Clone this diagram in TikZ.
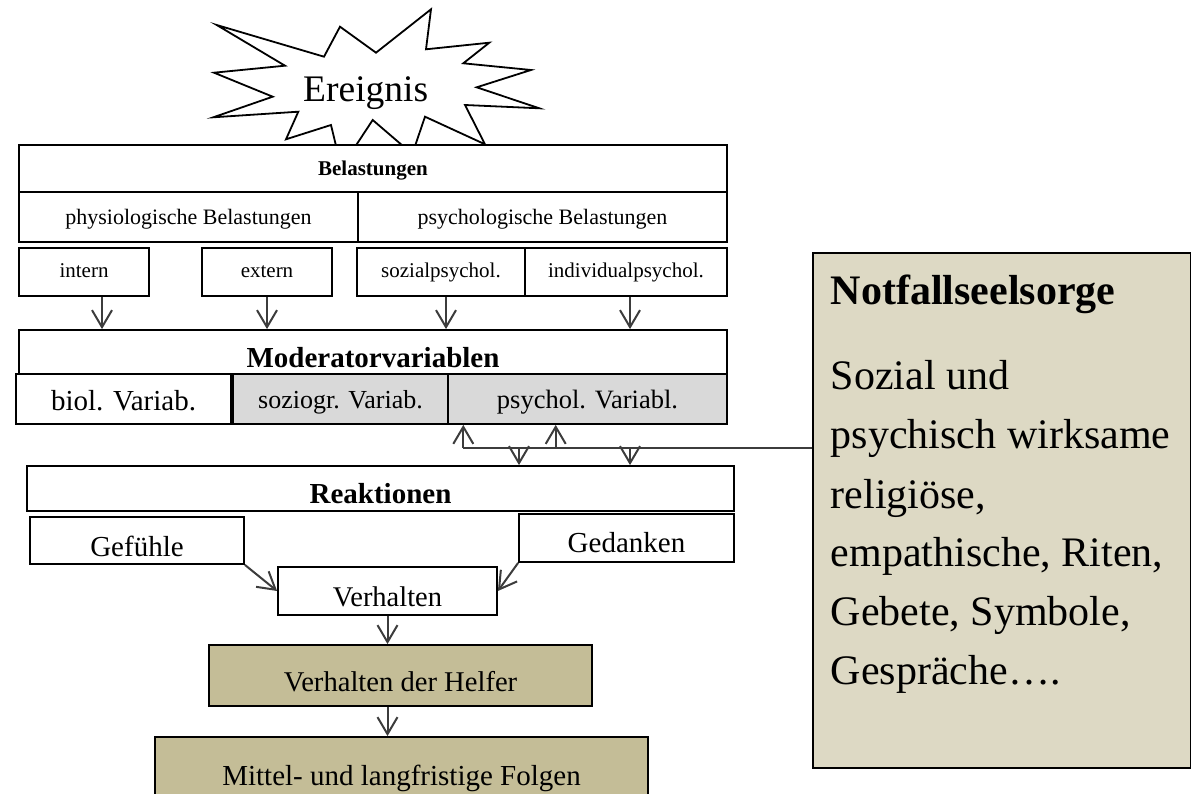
\documentclass[tikz,border=0pt]{standalone}
\usepackage{fontspec}
\setmainfont{Liberation Serif}
\usetikzlibrary{arrows.meta}
\definecolor{conn}{HTML}{3C3C3C}
\definecolor{grayfill}{HTML}{D9D9D9}
\definecolor{tanfill}{HTML}{C4BD97}
\definecolor{notffill}{HTML}{DDD9C4}
\tikzset{
  box/.style={draw=black, line width=1.8pt, fill=white, inner sep=0pt, text depth=0pt},
  arr/.style={draw=conn, line width=2pt, -{Straight Barb[length=17pt,width=20pt]}},
  conline/.style={draw=conn, line width=2pt},
}
\begin{document}
\begin{tikzpicture}[x=1pt,y=-1pt]
\useasboundingbox (0,0) rectangle (1191,794);
\clip (0,0) rectangle (1191,794);
% explosion star
\draw[line width=1.8pt, fill=white, line join=miter]
  (216.7,25) -- (324,56.7) -- (340,26.7) -- (376,52.7) -- (431,9.3) -- (426,49.3)
  -- (489.3,42.7) -- (463.3,63.3) -- (531,70) -- (476.7,87.3) -- (539.3,108.3)
  -- (465,105) -- (485,144.3) -- (425,116.7) -- (412.3,154) -- (372.7,120)
  -- (341.3,167.7) -- (331,125) -- (286,139.3) -- (298.3,111.7) -- (213.3,117.3)
  -- (272.7,96.7) -- (214,72.7) -- (285,65.7) -- cycle;
\node[anchor=base, inner sep=0pt, font=\fontsize{37.5}{37.5}\selectfont] (ereignis) at (365.7,101.7) {Ereignis};

% Belastungen
\node[box, minimum width=708pt, minimum height=47pt, text height=15pt, font=\fontsize{21}{21}\selectfont\bfseries] (bel) at (373,168.5) {Belastungen};
\node[box, minimum width=339pt, minimum height=50pt, text height=14.6pt, font=\fontsize{22}{22}\selectfont] (phys) at (188.5,217) {physiologische Belastungen};
\node[box, minimum width=369pt, minimum height=50pt, text height=14.6pt, font=\fontsize{22}{22}\selectfont] (psy) at (542.5,217) {psychologische Belastungen};
\node[box, minimum width=130pt, minimum height=48pt, text height=12pt, font=\fontsize{21}{21}\selectfont] (int) at (84,272) {intern};
\node[box, minimum width=130pt, minimum height=48pt, text height=12pt, font=\fontsize{21}{21}\selectfont] (ext) at (267,272) {extern};
\node[box, minimum width=168pt, minimum height=48pt, text height=12pt, font=\fontsize{21}{21}\selectfont] (soz) at (441,272) {sozialpsychol.};
\node[box, minimum width=202pt, minimum height=48pt, text height=12pt, font=\fontsize{21}{21}\selectfont] (ind) at (626,272) {individualpsychol.};

% Moderatorvariablen
\node[box, minimum width=708pt, minimum height=44pt, text height=30.6pt, font=\fontsize{29}{29}\selectfont\bfseries] (mod) at (373,352) {Moderatorvariablen};
\node[box, minimum width=215pt, minimum height=50pt, text height=22pt, font=\fontsize{29}{29}\selectfont] (bio) at (123.5,399) {biol. Variab.};
\node[box, fill=grayfill, minimum width=215pt, minimum height=50pt, text height=18pt, font=\fontsize{26}{26}\selectfont] (sozg) at (340.5,399) {soziogr. Variab.};
\node[box, fill=grayfill, minimum width=279pt, minimum height=50pt, text height=18pt, font=\fontsize{26.5}{26.5}\selectfont] (psv) at (587.5,399) {psychol. Variabl.};

% Reaktionen
\node[box, minimum width=707pt, minimum height=45pt, text height=29pt, font=\fontsize{29}{29}\selectfont\bfseries] (rea) at (380.5,488.5) {Reaktionen};
\node[box, minimum width=214pt, minimum height=47pt, text height=31pt, font=\fontsize{29}{29}\selectfont] (gef) at (137,540.5) {Gefühle};
\node[box, minimum width=215pt, minimum height=48pt, text height=28pt, font=\fontsize{29}{29}\selectfont] (ged) at (626.5,538) {Gedanken};
\node[box, minimum width=219pt, minimum height=48pt, text height=31.4pt, font=\fontsize{28.5}{28.5}\selectfont] (ver) at (387.5,591) {Verhalten};
\node[box, fill=tanfill, minimum width=383pt, minimum height=61pt, text height=32pt, font=\fontsize{28.6}{28.6}\selectfont] (helf) at (400.5,675.5) {Verhalten der Helfer};
\node[box, fill=tanfill, minimum width=493pt, minimum height=93pt, text height=4pt, font=\fontsize{29}{29}\selectfont] (mit) at (401.5,783.5) {Mittel- und langfristige Folgen};

% Notfallseelsorge
\node[draw=black, line width=2pt, fill=notffill, minimum width=377.8pt, minimum height=515pt, inner sep=0pt, anchor=north west] (notf) at (811.7,252.3) {};
\node[anchor=base west, inner sep=0pt, font=\fontsize{42}{59}\selectfont] (notft) at (830.7,305)
  {\begin{tabular}[t]{@{}l@{}}\textbf{Notfallseelsorge}\\[26pt]
   Sozial und\\ psychisch wirksame\\ religiöse,\\ empathische, Riten,\\ Gebete, Symbole,\\ Gespräche….\end{tabular}};

% connectors
\draw[arr] ([xshift=18pt]int.south) -- ([xshift=18pt]int.south |- mod.north);
\draw[arr] (ext.south) -- (ext.south |- mod.north);
\draw[arr] ([xshift=5pt]soz.south) -- ([xshift=5pt]soz.south |- mod.north);
\draw[arr] ([xshift=4pt]ind.south) -- ([xshift=4pt]ind.south |- mod.north);

\coordinate (j1) at (463.3,447.7);
\coordinate (j2) at (555.7,447.7);
\coordinate (j3) at (519,447.7);
\coordinate (j4) at (630,447.7);
\draw[conline] (j1) -- (j1 -| notf.west);
\draw[arr] (j1) -- (j1 |- psv.south);
\draw[arr] (j2) -- (j2 |- psv.south);
\draw[arr] (j3) -- (j3 |- rea.north);
\draw[arr] (j4) -- (j4 |- rea.north);

\draw[arr] (gef.south east) -- (ver.west);
\draw[arr] (ged.south west) -- (ver.east);
\draw[arr] (ver.south) -- (ver.south |- helf.north);
\draw[arr] (ver.south |- helf.south) -- (ver.south |- mit.north);
\end{tikzpicture}
\end{document}
